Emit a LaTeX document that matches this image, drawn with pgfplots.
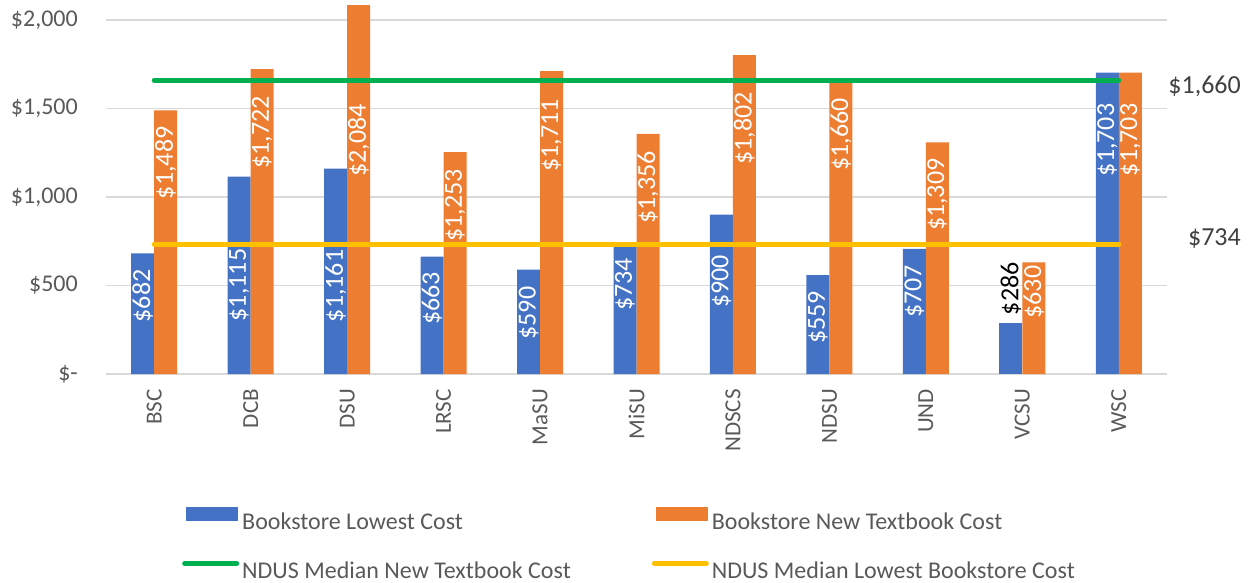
\documentclass[border=0pt]{standalone}
\usepackage{pgfplots}
\pgfplotsset{compat=1.18}
\usepackage{pgfplotstable}
\usepackage{fontspec}
\setmainfont{Carlito}
\definecolor{bblue}{HTML}{4472C4}
\definecolor{borange}{HTML}{ED7D31}
\definecolor{mgreen}{HTML}{00B050}
\definecolor{myellow}{HTML}{FFC000}
\definecolor{tickgray}{HTML}{595959}
\definecolor{labgray}{HTML}{404040}
\definecolor{gridgray}{HTML}{D9D9D9}
\newcommand\datafont{\fontsize{26}{30}\selectfont}

% x = category index, y = cost, off = gap between bar top and label (pt)
\pgfplotstableread{
x y off
0 682 16
1 1115 72
2 1161 81
3 663 15
4 590 17
5 734 14
6 900 40
7 559 16
8 707 16
10 1703 31
}\lowest
\pgfplotstableread{
x y off
0 1489 16
1 1722 27
2 2084 99
3 1253 17
4 1711 28
5 1356 17
6 1802 37
7 1660 18
8 1309 16
9 630 3
10 1703 31
}\newcost

\begin{document}
\begin{tikzpicture}
\path[use as bounding box] (0,0) rectangle (1251pt,582pt);
\begin{axis}[
    at={(106pt,208pt)}, anchor=south west,
    scale only axis, width=1061pt, height=371.7pt,
    xmin=-0.5, xmax=10.5, ymin=0, ymax=2100,
    xtick={0,...,10},
    xticklabels={BSC,DCB,DSU,LRSC,MaSU,MiSU,NDSCS,NDSU,UND,VCSU,WSC},
    ytick={0,500,1000,1500,2000},
    yticklabels={{\$-\hspace{10pt}},{\$500},{\$1,000},{\$1,500},{\$2,000}},
    ymajorgrids, grid style={gridgray, line width=1.5pt},
    axis line style={draw=none},
    major tick length=0pt,
    tick label style={text=tickgray},
    yticklabel style={font=\fontsize{24}{28}\selectfont, anchor=east, inner sep=0pt, xshift=-28pt},
    xticklabel style={font=\fontsize{23}{28}\selectfont, rotate=90, anchor=east, inner xsep=15pt, inner ysep=0pt},
    /pgf/number format/assume math mode=true,
    clip=false,
    legend columns=2,
    legend cell align=left,
    legend style={at={(axis description cs:0,0)}, anchor=north west,
        xshift=76pt, yshift=-133pt, draw=none, fill=none, inner sep=0pt,
        font=\fontsize{24}{28}\selectfont, text=tickgray, row sep=30pt,
        nodes={inner sep=0pt, text height=16pt, text depth=2pt},
        /tikz/every odd column/.append style={column sep=3pt},
        /tikz/every even column/.append style={column sep=81pt}},
]
% Bookstore Lowest Cost
\addplot[ybar, bar width=23pt, bar shift=-11.5pt, fill=bblue, draw=none,
    nodes near coords={\$\pgfmathprintnumber[fixed,precision=0,1000 sep={,}]{\pgfplotspointmeta}},
    visualization depends on={\thisrow{off} \as \off},
    every node near coord/.append style={xshift=-11.5pt, rotate=90, anchor=east, inner xsep=\off pt, inner ysep=0pt, text=white, font=\datafont},
    legend image code/.code={\fill[bblue] (4pt,1pt) rectangle (56pt,15pt);}]
    table[x=x, y=y] {\lowest};
\addlegendentry{Bookstore Lowest Cost}
% VCSU lowest cost, label above the bar
\addplot[ybar, bar width=23pt, bar shift=-11.5pt, fill=bblue, draw=none, forget plot,
    nodes near coords={\$\pgfmathprintnumber[fixed,precision=0]{\pgfplotspointmeta}},
    every node near coord/.append style={xshift=-11.5pt, rotate=90, anchor=west, inner xsep=8pt, inner ysep=0pt, text=black, font=\datafont}]
    coordinates {(9,286)};
% Bookstore New Textbook Cost
\addplot[ybar, bar width=23pt, bar shift=11.5pt, fill=borange, draw=none,
    nodes near coords={\$\pgfmathprintnumber[fixed,precision=0,1000 sep={,}]{\pgfplotspointmeta}},
    visualization depends on={\thisrow{off} \as \off},
    every node near coord/.append style={xshift=11.5pt, rotate=90, anchor=east, inner xsep=\off pt, inner ysep=0pt, text=white, font=\datafont},
    legend image code/.code={\fill[borange] (4pt,1pt) rectangle (56pt,15pt);}]
    table[x=x, y=y] {\newcost};
\addlegendentry{Bookstore New Textbook Cost}
% medians
\addplot[mgreen, line width=5pt, line cap=round,
    legend image code/.code={\draw[mgreen, line width=4.5pt, line cap=round] (2.25pt,8pt) -- (54.75pt,8pt);}]
    coordinates {(0,1660) (10,1660)};
\addlegendentry{NDUS Median New Textbook Cost}
\addplot[myellow, line width=5pt, line cap=round,
    legend image code/.code={\draw[myellow, line width=4.5pt, line cap=round] (2.25pt,8pt) -- (54.75pt,8pt);}]
    coordinates {(0,734) (10,734)};
\addlegendentry{NDUS Median Lowest Bookstore Cost}
\node[anchor=east, xshift=74pt, inner sep=0pt, text=labgray, font=\fontsize{26}{30}\selectfont] at (axis cs:10.5,1627) {\$1,660};
\node[anchor=east, xshift=74pt, inner sep=0pt, text=labgray, font=\fontsize{26}{30}\selectfont] at (axis cs:10.5,768) {\$734};
\end{axis}
\end{tikzpicture}
\end{document}
